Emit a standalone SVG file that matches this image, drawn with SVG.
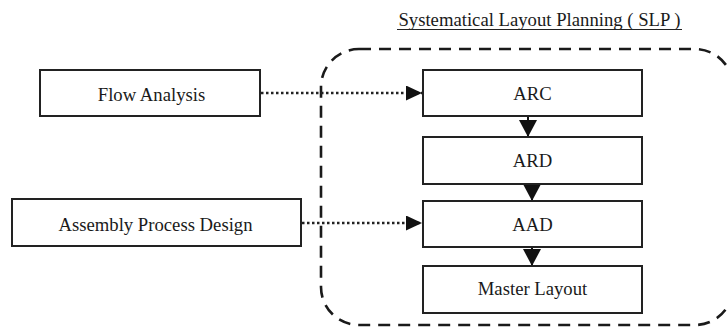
<svg xmlns="http://www.w3.org/2000/svg" width="728" height="328" viewBox="0 0 728 328">
<style>
.box{fill:#fff;stroke:#222;stroke-width:2}
.lbl{font-family:"Liberation Serif","Times New Roman",serif;font-size:18.7px;fill:#1a1a1a;text-anchor:middle}
.dot{fill:none;stroke:#222;stroke-width:2.5;stroke-dasharray:2.5 2.5}
.solid{fill:none;stroke:#111;stroke-width:2}
.frame{fill:none;stroke:#1a1a1a;stroke-width:2.6;stroke-dasharray:12 8}
</style>
<defs>
<marker id="ah" markerWidth="16" markerHeight="15" refX="16" refY="7.5" orient="auto" markerUnits="userSpaceOnUse">
<path d="M0,0 L16,7.5 L0,15 Z" fill="#111"/>
</marker>
<marker id="ahv" markerWidth="17" markerHeight="18" refX="17" refY="9" orient="auto" markerUnits="userSpaceOnUse">
<path d="M0,0 L17,9 L0,18 Z" fill="#111"/>
</marker>
</defs>
<rect fill="#fff" width="728" height="328"/>
<g id="slp-frame">
<rect class="frame" x="321" y="49" width="412" height="276" rx="38" ry="38"/>
<text class="lbl" x="539.5" y="26">Systematical Layout Planning ( SLP )</text>
<line x1="397" y1="29.5" x2="682" y2="29.5" stroke="#222" stroke-width="1.2"/>
</g>
<g id="connectors">
<line class="dot" x1="261" y1="93" x2="422" y2="93" marker-end="url(#ah)"/>
<line class="dot" x1="302" y1="223" x2="422" y2="223" marker-end="url(#ah)"/>
<line class="solid" x1="528" y1="116" x2="528" y2="137" marker-end="url(#ahv)"/>
<line class="solid" x1="532" y1="184" x2="532" y2="201" marker-end="url(#ahv)"/>
<line class="solid" x1="532" y1="247" x2="532" y2="266" marker-end="url(#ahv)"/>
</g>
<g id="flow-analysis">
<rect class="box" x="40" y="70" width="220" height="46"/>
<text class="lbl" x="151.5" y="101">Flow Analysis</text>
</g>
<g id="assembly-process-design">
<rect class="box" x="12" y="199" width="289" height="47"/>
<text class="lbl" x="155.5" y="231">Assembly Process Design</text>
</g>
<g id="arc">
<rect class="box" x="423" y="70" width="219" height="46"/>
<text class="lbl" x="532.5" y="100">ARC</text>
</g>
<g id="ard">
<rect class="box" x="423" y="137" width="219" height="47"/>
<text class="lbl" x="532.5" y="167">ARD</text>
</g>
<g id="aad">
<rect class="box" x="423" y="201" width="219" height="46"/>
<text class="lbl" x="532.5" y="231">AAD</text>
</g>
<g id="master-layout">
<rect class="box" x="423" y="266" width="219" height="47"/>
<text class="lbl" x="532.5" y="295">Master Layout</text>
</g>
</svg>
